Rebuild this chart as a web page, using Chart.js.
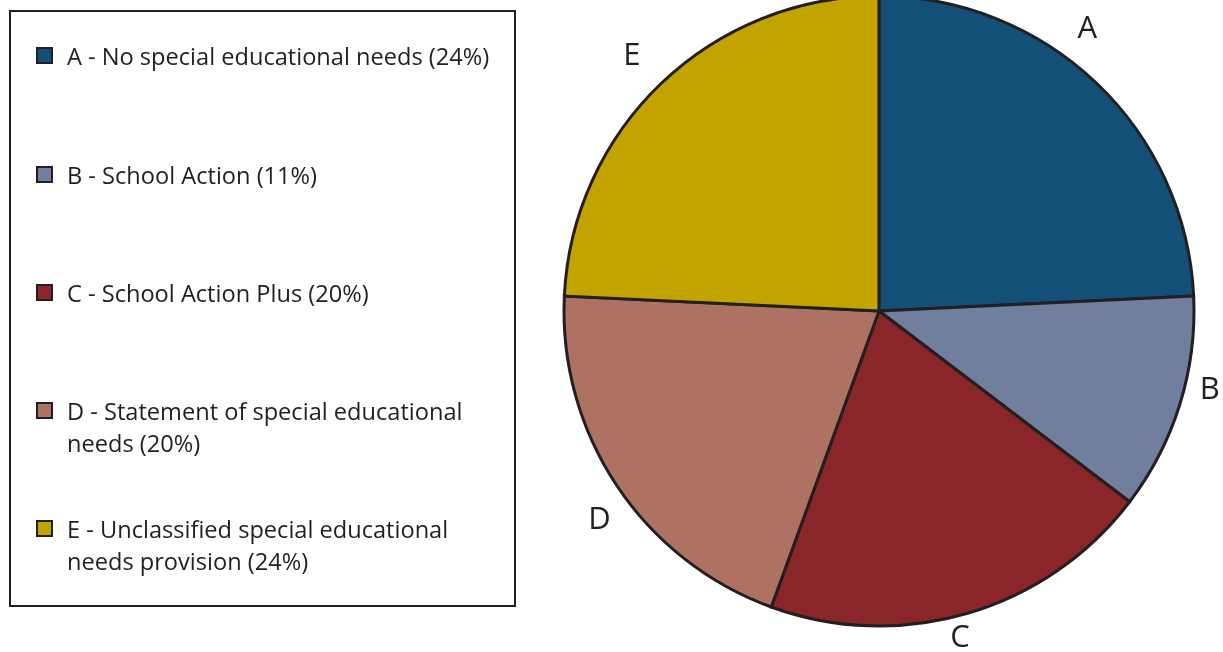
<!DOCTYPE html>
<html>
<head>
<meta charset="utf-8">
<script src="https://cdn.jsdelivr.net/npm/chart.js@4/dist/chart.umd.min.js"></script>
<style>
  html, body { margin: 0; padding: 0; background: #ffffff; width: 1223px; height: 652px; overflow: hidden; position: relative; }
  #c { position: absolute; left: 0; top: 0; }
  #legend { position: absolute; left: 9px; top: 10px; width: 503px; height: 593px; border: 2px solid #231f20; box-sizing: content-box;
    font-family: "Open Sans", "DejaVu Sans", sans-serif; font-size: 23.6px; color: #231f20; }
  .sw { position: absolute; left: 25px; width: 13px; height: 13px; border: 2.5px solid #231f20; }
  .tx { position: absolute; left: 56px; line-height: 32px; white-space: nowrap; }
</style>
</head>
<body>
<canvas id="c" width="1223" height="652"></canvas>
<div id="legend"></div>
<script>
const categories = ["A", "B", "C", "D", "E"];
const legendLabels = [
  ["A - No special educational needs (24%)"],
  ["B - School Action (11%)"],
  ["C - School Action Plus (20%)"],
  ["D - Statement of special educational", "needs (20%)"],
  ["E - Unclassified special educational", "needs provision (24%)"]
];
const values = [24, 11, 20, 20, 24];
const colors = ["#125077", "#707f9d", "#8a252a", "#ad7262", "#c2a300"];

// legend (HTML)
const legendTops = [39, 157.5, 276, 394, 512];
const legend = document.getElementById('legend');
legendLabels.forEach((lines, i) => {
  const sw = document.createElement('div');
  sw.className = 'sw';
  sw.style.top = (legendTops[i] - 4) + 'px';
  sw.style.background = colors[i];
  legend.appendChild(sw);
  const tx = document.createElement('div');
  tx.className = 'tx';
  tx.style.top = (legendTops[i] - 11) + 'px';
  tx.innerHTML = lines.join('<br>');
  legend.appendChild(tx);
});

// outside labels: angle (deg clockwise from top) and distance from centre
const labelAngles = [36.5, 103.4, 166.1, 233.2, 315.9];
const labelDist = [350, 340, 337, 349, 355];

const outsideLabels = {
  id: 'outsideLabels',
  afterDraw(chart) {
    const arc = chart.getDatasetMeta(0).data[0];
    const cx = arc.x, cy = arc.y;
    const ctx = chart.ctx;
    ctx.save();
    ctx.font = '31px "Open Sans", "DejaVu Sans", sans-serif';
    ctx.fillStyle = '#231f20';
    ctx.textAlign = 'center';
    ctx.textBaseline = 'middle';
    categories.forEach((c, i) => {
      const a = labelAngles[i] * Math.PI / 180;
      ctx.fillText(c, cx + labelDist[i] * Math.sin(a), cy - labelDist[i] * Math.cos(a));
    });
    ctx.restore();
  }
};

new Chart(document.getElementById('c'), {
  type: 'pie',
  data: {
    labels: categories,
    datasets: [{
      data: values,
      backgroundColor: colors,
      borderColor: '#231f20',
      borderWidth: 3,
      borderJoinStyle: 'miter'
    }]
  },
  options: {
    responsive: false,
    animation: false,
    radius: 315,
    layout: { padding: { left: 564, right: 29, top: 0, bottom: 30 } },
    plugins: { legend: { display: false }, tooltip: { enabled: false } }
  },
  plugins: [outsideLabels]
});
</script>
</body>
</html>
